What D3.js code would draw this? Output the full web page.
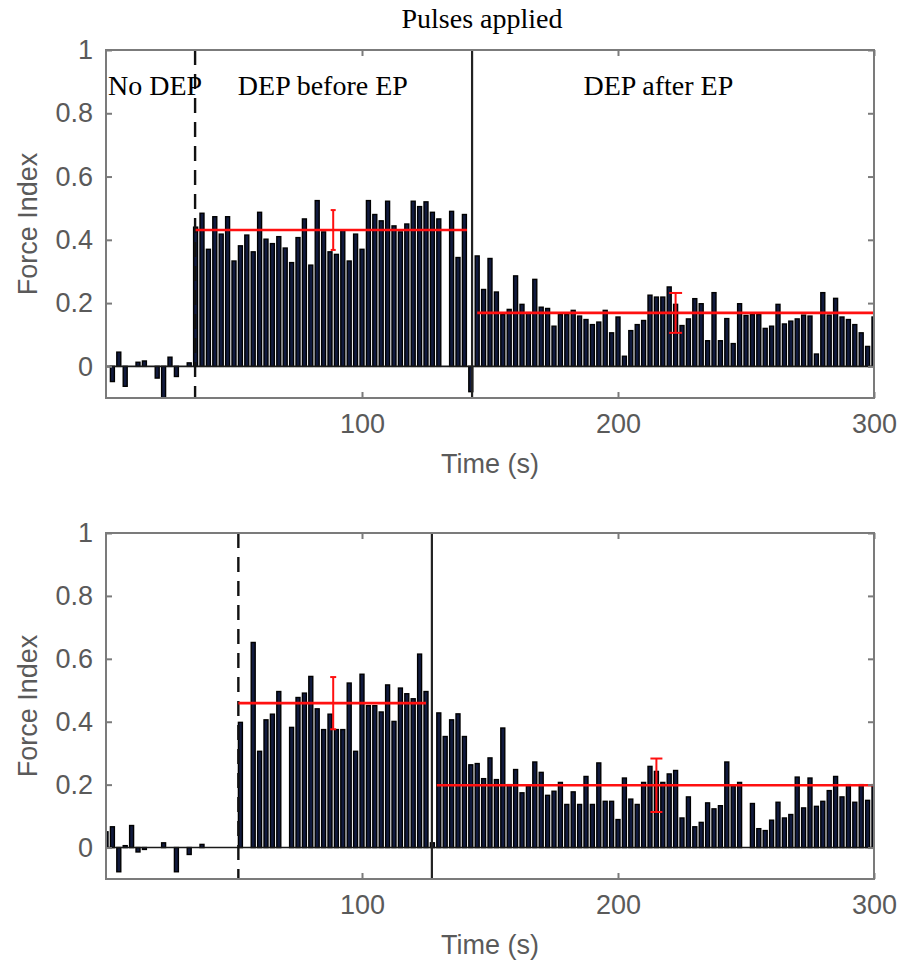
<!DOCTYPE html>
<html><head><meta charset="utf-8">
<script src="https://cdn.jsdelivr.net/npm/d3@7/dist/d3.min.js"></script>
<style>body{margin:0;background:#fff}svg{display:block}</style>
</head><body><svg id="c" width="904" height="963"></svg>
<script>
// ---------------- data ----------------
const sampleStep = 2.5;              // s between bars
const xDomain = [0, 300];
const yDomain = [-0.1, 1];
const xTicks = [100, 200, 300];
const yTicks = [0, 0.2, 0.4, 0.6, 0.8, 1];
const yTickLabels = ["0", "0.2", "0.4", "0.6", "0.8", "1"];
const xLabel = "Time (s)";
const yLabel = "Force Index";
const figTitle = "Pulses applied";
const regionLabels = ["No DEP", "DEP before EP", "DEP after EP"];

// top panel
const topStarts = [0, 35, 145];
const topNoDep = [0, -0.048, 0.045, -0.063, 0, 0.013, 0.017, 0, -0.037, -0.1, 0.029, -0.032, 0, 0.011];
const topBeforeEP = [0.44, 0.484, 0.37, 0.473, 0.418, 0.473, 0.333, 0.381, 0.415, 0.362, 0.487, 0.402, 0.388, 0.41, 0.374,
  0.328, 0.407, 0.466, 0.32, 0.524, 0.425, 0.362, 0.354, 0.43, 0.333, 0.418, 0.37, 0.524, 0.48, 0.46, 0.522, 0.444,
  0.425, 0.45, 0.522, 0.505, 0.52, 0.487, 0.466, 0, 0.49, 0.344, 0.48, -0.08];
const topAfterEP = [0.349, 0.243, 0.341, 0.235, 0.164, 0.18, 0.286, 0.196, 0.17, 0.275, 0.187, 0.183, 0.127, 0.164, 0.164,
  0.177, 0.159, 0.148, 0.132, 0.14, 0.177, 0.106, 0.156, 0.032, 0.113, 0.132, 0.145, 0.225, 0.219, 0.219, 0.251, 0.196,
  0.129, 0.15, 0.214, 0.198, 0.081, 0.233, 0.081, 0.151, 0.072, 0.198, 0.161, 0.164, 0.164, 0.12, 0.127, 0.196, 0.134,
  0.143, 0.15, 0.162, 0.159, 0.039, 0.233, 0.162, 0.215, 0.156, 0.148, 0.132, 0.106, 0.063, 0.156];
const topDashedAt = 34.8;
const topSolidAt = 143;
const topMeanFrom = [35, 145];
const topMeanTo = [141, 300];
const topMean = [0.431, 0.169];
const topErr = [0.063, 0.063];
const topErrAt = [88.75, 222.5];
const topLabelAt = [0.8, 51.5, 186.5];

// bottom panel
const botStarts = [0, 52.5, 130];
const botNoDep = [0.05, 0.066, -0.077, 0.006, 0.07, -0.014, -0.006, 0, 0, 0.015, 0, -0.077, 0, -0.022, 0, 0.01, 0, 0, 0, 0, 0];
const botBeforeEP = [0.398, 0, 0.652, 0.306, 0.406, 0.424, 0.496, 0, 0.382, 0.477, 0.491, 0.544, 0.441, 0.375, 0.424,
  0.375, 0.375, 0.523, 0.306, 0.551, 0.451, 0.451, 0.431, 0.517, 0.401, 0.507, 0.489, 0.473, 0.615, 0.496, 0.015];
const botAfterEP = [0.428, 0.353, 0.406, 0.425, 0.353, 0.263, 0.267, 0.219, 0.285, 0.216, 0.38, 0.2, 0.248, 0.174, 0.195,
  0.272, 0.239, 0.166, 0.179, 0.207, 0.137, 0.177, 0.137, 0.226, 0.137, 0.269, 0.147, 0.147,
  0.089, 0.221, 0.154, 0.137, 0.207, 0.258, 0.242, 0.207, 0.234, 0.245, 0.094, 0.161, 0.066, 0.08, 0.142, 0.123, 0.133,
  0.272, 0.195, 0.207, 0, 0.14, 0.06, 0.054, 0.087, 0.144, 0.094, 0.105, 0.224, 0.126, 0.221, 0.131, 0.147, 0.181,
  0.226, 0.161, 0.2, 0.144, 0.2, 0.15, 0.2];
const botDashedAt = 51.7;
const botSolidAt = 127.3;
const botMeanFrom = [51.7, 129.2];
const botMeanTo = [125, 300];
const botMean = [0.459, 0.198];
const botErr = [0.083, 0.085];
const botErrAt = [88.75, 215];

// ---------------- drawing ----------------
const svg = d3.select("#c");
const L = 106, R = 874;
const panels = [
  {top: 50, bottom: 398, starts: topStarts, series: [topNoDep, topBeforeEP, topAfterEP],
   dashed: topDashedAt, solid: topSolidAt, mFrom: topMeanFrom, mTo: topMeanTo, mean: topMean, err: topErr,
   errAt: topErrAt, caps: [2.5, 6.5], labels: true},
  {top: 533, bottom: 879, starts: botStarts, series: [botNoDep, botBeforeEP, botAfterEP],
   dashed: botDashedAt, solid: botSolidAt, mFrom: botMeanFrom, mTo: botMeanTo, mean: botMean, err: botErr,
   errAt: botErrAt, caps: [3, 6], labels: false}
];

const sans = "'Liberation Sans', Arial, Helvetica, sans-serif";
const serif = "'Liberation Serif', 'Times New Roman', serif";
const axisGray = "#7b7b7b";
const textGray = "#5a5a5a";

panels.forEach((p, pi) => {
  const x = d3.scaleLinear().domain(xDomain).range([L, R]);
  const y = d3.scaleLinear().domain(yDomain).range([p.bottom, p.top]);
  const g = svg.append("g");
  const clipId = "clip" + pi;
  svg.append("defs").append("clipPath").attr("id", clipId)
    .append("rect").attr("x", L).attr("y", p.top).attr("width", R - L).attr("height", p.bottom - p.top);

  // bar data
  const bars = [];
  p.series.forEach((arr, si) => {
    arr.forEach((v, i) => bars.push({t: p.starts[si] + i * sampleStep, v}));
  });
  const bw = (x(sampleStep) - x(0)) * 0.62;
  const plot = g.append("g").attr("clip-path", `url(#${clipId})`);
  plot.selectAll("rect.bar").data(bars.filter(d => d.v !== 0)).join("rect")
    .attr("class", "bar")
    .attr("x", d => x(d.t) - bw / 2)
    .attr("width", bw)
    .attr("y", d => Math.min(y(d.v), y(0)))
    .attr("height", d => Math.abs(y(d.v) - y(0)))
    .attr("fill", "#111a3e")
    .attr("stroke", "#000")
    .attr("stroke-width", 1.4);

  // baseline
  plot.append("line").attr("x1", L).attr("x2", R).attr("y1", y(0)).attr("y2", y(0))
    .attr("stroke", "#1a1a1a").attr("stroke-width", 1.6);

  // dashed & solid markers
  plot.append("line").attr("x1", x(p.dashed)).attr("x2", x(p.dashed)).attr("y1", p.top).attr("y2", p.bottom)
    .attr("stroke", "#111").attr("stroke-width", 2.4).attr("stroke-dasharray", "15,9");
  plot.append("line").attr("x1", x(p.solid)).attr("x2", x(p.solid)).attr("y1", p.top).attr("y2", p.bottom)
    .attr("stroke", "#222").attr("stroke-width", 2.2);

  // mean lines and error bars
  p.mean.forEach((m, k) => {
    plot.append("line").attr("x1", x(p.mFrom[k])).attr("x2", x(p.mTo[k])).attr("y1", y(m)).attr("y2", y(m))
      .attr("stroke", "#ff1010").attr("stroke-width", 2.6);
    const ex = x(p.errAt[k]);
    const y1 = y(m + p.err[k]), y2 = y(m - p.err[k]);
    plot.append("line").attr("x1", ex).attr("x2", ex).attr("y1", y1).attr("y2", y2)
      .attr("stroke", "#ff1010").attr("stroke-width", 2);
    [y1, y2].forEach(yy => plot.append("line").attr("x1", ex - p.caps[k]).attr("x2", ex + p.caps[k])
      .attr("y1", yy).attr("y2", yy).attr("stroke", "#ff1010").attr("stroke-width", 2));
  });

  // box
  g.append("rect").attr("x", L).attr("y", p.top).attr("width", R - L).attr("height", p.bottom - p.top)
    .attr("fill", "none").attr("stroke", axisGray).attr("stroke-width", 2);

  // axes with inward ticks
  const yAxisL = d3.axisLeft(y).tickValues(yTicks).tickSize(-6).tickPadding(13)
    .tickFormat((d, i) => yTickLabels[i]);
  const ga = g.append("g").attr("transform", `translate(${L},0)`).call(yAxisL);
  const gr = g.append("g").attr("transform", `translate(${R},0)`)
    .call(d3.axisRight(y).tickValues(yTicks).tickSize(-6).tickFormat(""));
  const gb = g.append("g").attr("transform", `translate(0,${p.bottom})`)
    .call(d3.axisBottom(x).tickValues(xTicks).tickSize(-6).tickPadding(16));
  const gt = g.append("g").attr("transform", `translate(0,${p.top})`)
    .call(d3.axisTop(x).tickValues(xTicks).tickSize(-6).tickFormat(""));
  [ga, gr, gb, gt].forEach(a => {
    a.select(".domain").remove();
    a.selectAll(".tick line").attr("stroke", axisGray).attr("stroke-width", 2);
    a.selectAll(".tick text").attr("fill", textGray).style("font-family", sans).style("font-size", "27px");
  });
  gb.selectAll(".tick text").attr("dy", "0.71em");

  // axis labels
  g.append("text").attr("x", (L + R) / 2).attr("y", p.bottom + 75).attr("text-anchor", "middle")
    .attr("fill", textGray).style("font-family", sans).style("font-size", "27px").text(xLabel);
  g.append("text").attr("transform", `translate(37,${(p.top + p.bottom) / 2}) rotate(-90)`)
    .attr("text-anchor", "middle").attr("fill", textGray)
    .style("font-family", sans).style("font-size", "27px").text(yLabel);

  if (p.labels) {
    regionLabels.forEach((lab, k) => {
      g.append("text").attr("x", x(topLabelAt[k])).attr("y", p.top + 45).attr("fill", "#000")
        .style("font-family", serif).style("font-size", "28px").text(lab);
    });
  }
});

svg.append("text").attr("x", 482).attr("y", 28).attr("text-anchor", "middle").attr("fill", "#000")
  .style("font-family", serif).style("font-size", "28px").text(figTitle);
</script>
</body></html>
